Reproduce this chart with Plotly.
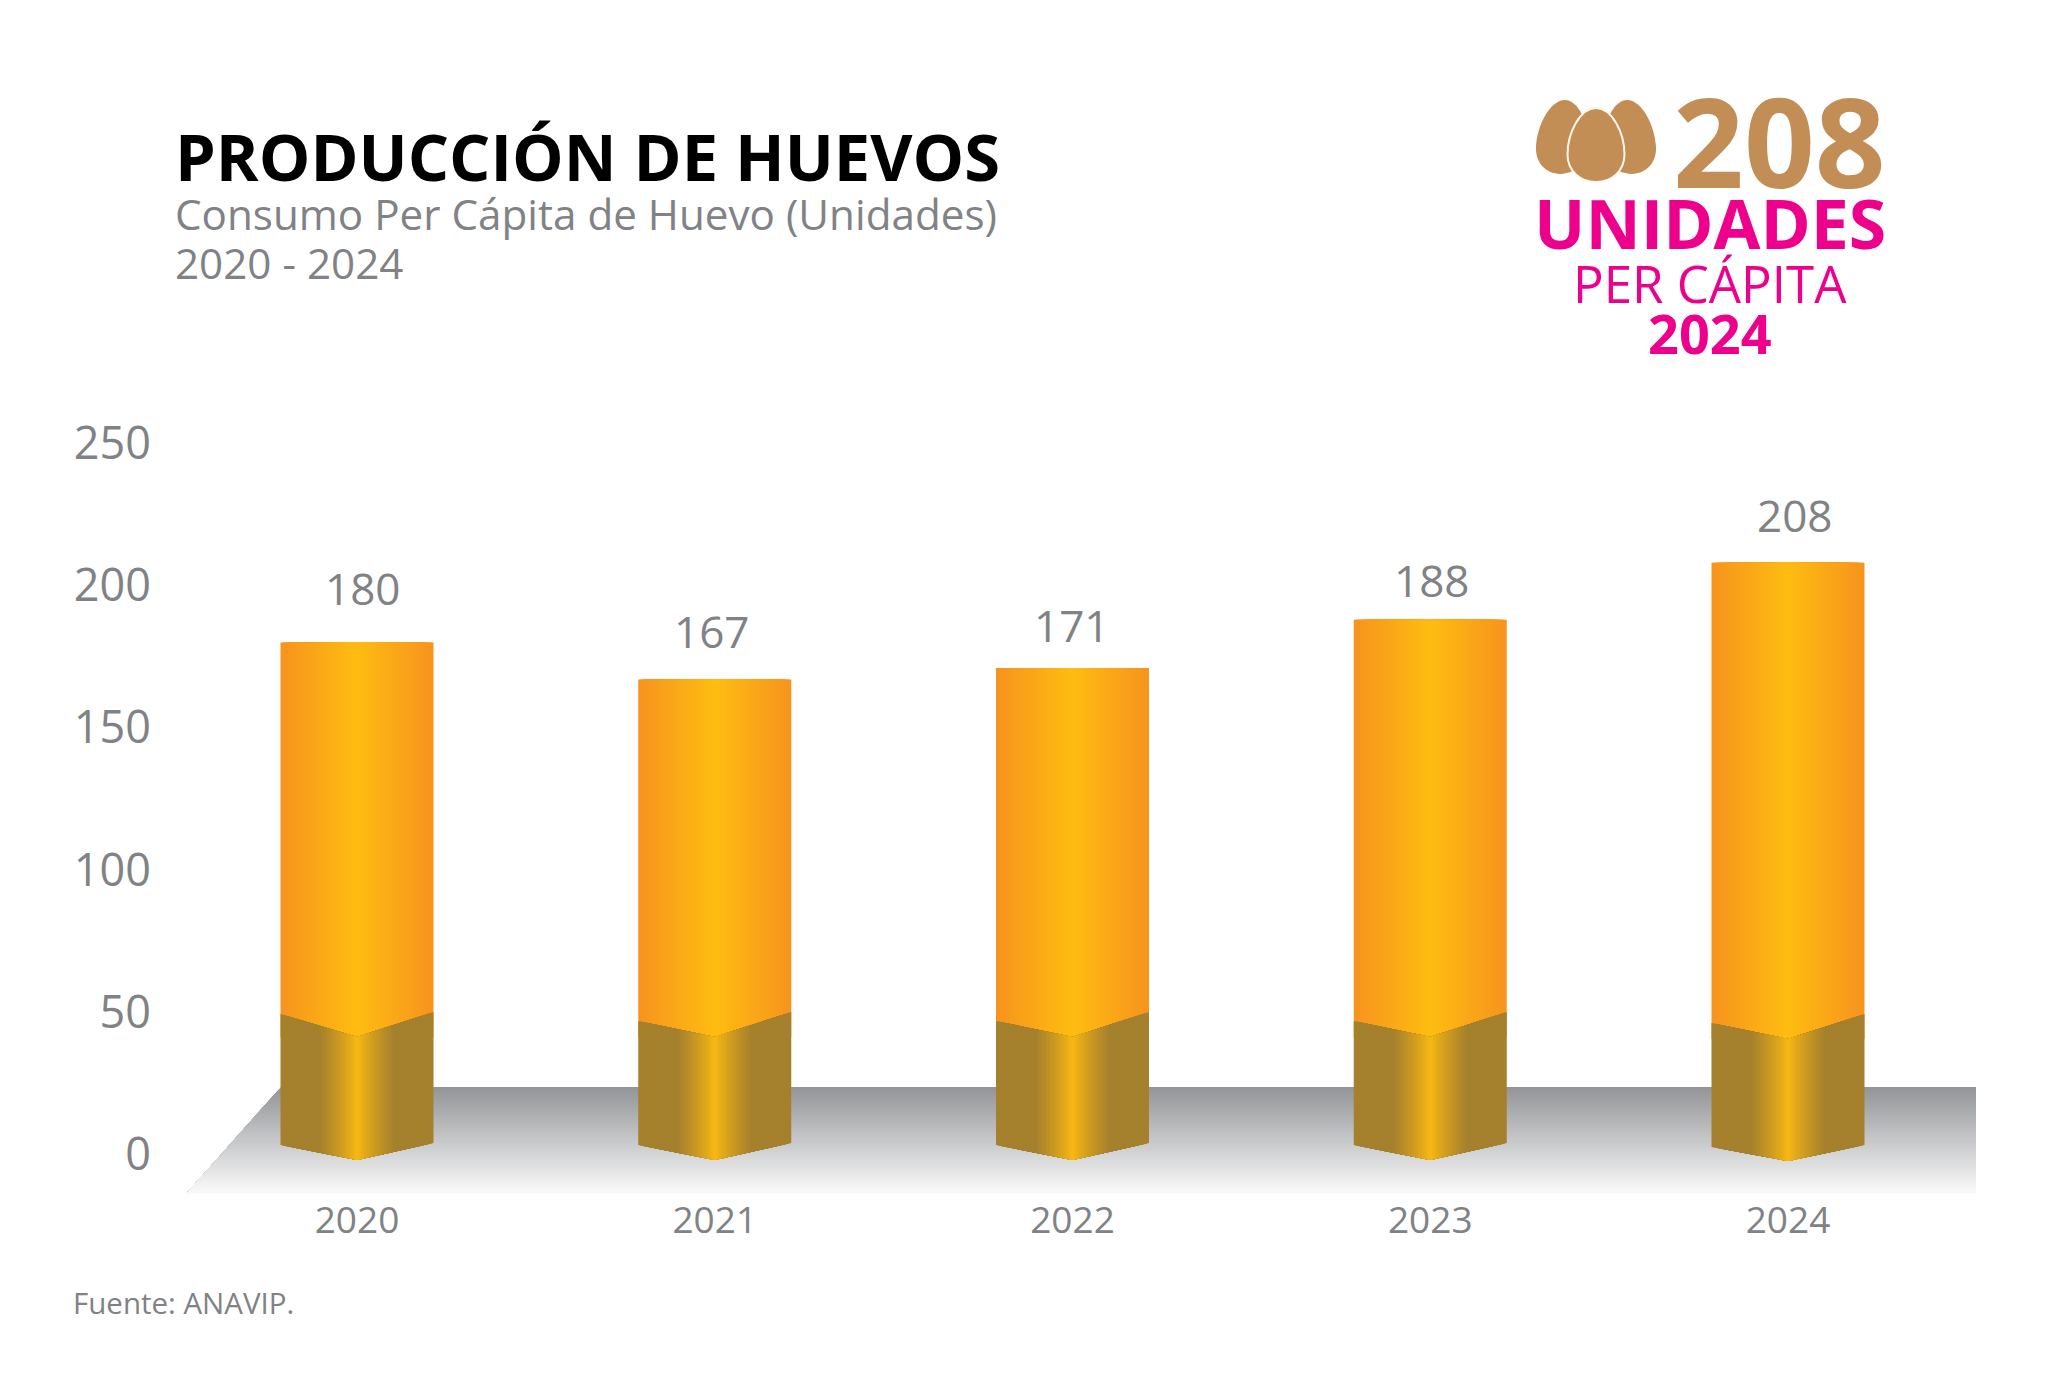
import plotly.graph_objects as go

# ---- data ----
years = [2020, 2021, 2022, 2023, 2024]
values = [180, 167, 171, 188, 208]
y_ticks = [0, 50, 100, 150, 200, 250]
title = "PRODUCCIÓN DE HUEVOS"
subtitle_1 = "Consumo Per Cápita de Huevo (Unidades)"
subtitle_2 = "2020 - 2024"
source = "Fuente: ANAVIP."
badge_value = "208"
badge_unit = "UNIDADES"
badge_per = "PER CÁPITA"
badge_year = "2024"

# ---- canvas mapping ----
W, H = 2048, 1396
PL, PB = 160, 1195            # plot area left / bottom in pixels
Y0, PXU = 1154.0, 2.842       # pixel of value 0, pixels per unit
X0, PXY = 357.0, 357.75       # pixel of 2020, pixels per year
GREY = "#808285"
BROWN = "#c28e56"
PINK = "#ec008c"
FONT = "Open Sans"

def dx(px): return 2020 + (px - X0) / PXY
def dy(py): return (Y0 - py) / PXU
def paper_x(px): return (px - PL) / (W - PL)
def paper_y(py): return 1 - py / PB

def lerp_hex(a, b, t):
    ca = [int(a[i:i + 2], 16) for i in (1, 3, 5)]
    cb = [int(b[i:i + 2], 16) for i in (1, 3, 5)]
    return "rgb(%d,%d,%d)" % tuple(round(p + (q - p) * t) for p, q in zip(ca, cb))

# ---- bar decoration (chevron foot, pixels per bar) ----
BAR_W = 153 / PXY
LAYERS = 38
top_l = [1014, 1021, 1021, 1021, 1023]
top_c = [1037, 1037, 1037, 1037, 1039]
top_r = [1012, 1012, 1012, 1012, 1014]
bot_l = [1145, 1145, 1145, 1145, 1147]
bot_c = [1160, 1160, 1160, 1160, 1161]
bot_r = [1143, 1143, 1143, 1143, 1145]

def vee(l, c, r, u):
    return l + (c - l) * (u / 0.5) if u < 0.5 else c + (r - c) * ((u - 0.5) / 0.5)

fig = go.Figure()
# orange body: nested bars, outermost first, so the gradient has no seams
for i in range(LAYERS):
    d = 1 - i / LAYERS
    bases = [dy(c) for c in top_c]
    w = BAR_W * d
    fig.add_trace(go.Bar(
        x=years, y=[v - b for v, b in zip(values, bases)], base=bases,
        width=w, offset=-w / 2,
        marker=dict(color=lerp_hex("#febd11", "#f7941e", d), line=dict(width=0)),
        showlegend=False, hoverinfo="skip"))

# dark foot: nested polygons on the chevron outline
for i in range(LAYERS):
    d = 1 - i / LAYERS
    lo, hi = 0.5 - d / 2, 0.5 + d / 2
    xs, ys = [], []
    for k, yr in enumerate(years):
        tl, tc, tr = top_l[k], top_c[k], top_r[k]
        bl, bc, br = bot_l[k], bot_c[k], bot_r[k]
        xs += [yr + (lo - 0.5) * BAR_W, yr, yr + (hi - 0.5) * BAR_W,
               yr + (hi - 0.5) * BAR_W, yr, yr + (lo - 0.5) * BAR_W,
               yr + (lo - 0.5) * BAR_W, None]
        ys += [dy(vee(tl, tc, tr, lo)), dy(tc), dy(vee(tl, tc, tr, hi)),
               dy(vee(bl, bc, br, hi)), dy(bc), dy(vee(bl, bc, br, lo)),
               dy(vee(tl, tc, tr, lo)), None]
    col = "#a5802d" if d > 0.5 else lerp_hex("#febd11", "#a5802d", (d / 0.5) ** 0.8)
    fig.add_trace(go.Scatter(x=xs, y=ys, mode="none", fill="toself", fillcolor=col,
                             showlegend=False, hoverinfo="skip"))

# ---- floor: nested polygons give a vertical gradient ----
shapes = []
FT, FB, FTL, FBL, FR = 1087.0, 1194.0, 281.0, 186.0, 1976.0
for i in range(54):
    t = i / 54
    py = FT + (FB - FT) * t
    xl = FTL + (FBL - FTL) * t
    shapes.append(dict(
        type="path", layer="below", xref="x", yref="y", line=dict(width=0),
        fillcolor=lerp_hex("#939598", "#fcfcfc", t),
        path=f"M{dx(xl)},{dy(py)} L{dx(FR)},{dy(py)} L{dx(FR)},{dy(FB)} L{dx(FBL)},{dy(FB)} Z"))

# ---- egg logo ----
def egg(cx, top, bottom, hw, belly=0.63, lean=0.0):
    h = bottom - top
    m = top + h * belly
    def p(x, y):
        return f"{paper_x(x + lean * (m - y))},{paper_y(y)}"
    return (f"M{p(cx, top)} "
            f"C{p(cx + hw * 0.55, top)} {p(cx + hw, m - h * 0.3)} {p(cx + hw, m)} "
            f"C{p(cx + hw, m + h * 0.22)} {p(cx + hw * 0.55, bottom)} {p(cx, bottom)} "
            f"C{p(cx - hw * 0.55, bottom)} {p(cx - hw, m + h * 0.22)} {p(cx - hw, m)} "
            f"C{p(cx - hw, m - h * 0.3)} {p(cx - hw * 0.55, top)} {p(cx, top)} Z")

for spec in [(1562, 100, 174, 26, 0.06), (1630, 100, 174, 26, -0.06)]:
    shapes.append(dict(type="path", xref="paper", yref="paper", fillcolor=BROWN,
                       line=dict(width=0), path=egg(spec[0], spec[1], spec[2], spec[3], lean=spec[4])))
shapes.append(dict(type="path", xref="paper", yref="paper", fillcolor=BROWN,
                   line=dict(width=2, color="#fff6ea"), path=egg(1596, 108, 182, 28.5)))

# ---- text ----
def txt(s, px, py, size, color, bold=False, anchor="left"):
    return dict(text=f"<b>{s}</b>" if bold else s, xref="paper", yref="paper",
                x=paper_x(px), y=paper_y(py), xanchor=anchor, yanchor="middle",
                showarrow=False, borderpad=0,
                font=dict(family=FONT, size=size, color=color))

annotations = [
    txt(title, 174, 156, 65, "#000000", bold=True),
    txt(subtitle_1, 174, 214, 42.2, GREY),
    txt(subtitle_2, 174, 262, 42.2, GREY),
    txt(source, 72, 1302, 29.5, GREY),
    txt(badge_value, 1779, 140, 124, BROWN, bold=True, anchor="center"),
    txt(badge_unit, 1710, 223, 68, PINK, bold=True, anchor="center"),
    txt(badge_per, 1710, 283, 51, PINK, anchor="center"),
    txt(badge_year, 1710, 333, 54, PINK, bold=True, anchor="center"),
]
label_dx = [5, -3, -1, 1, 6]
label_up = [54, 48, 43, 40, 48]
for yr, v, ox, up in zip(years, values, label_dx, label_up):
    annotations.append(dict(text=str(v), x=yr, y=v, xref="x", yref="y", xshift=ox, yshift=up,
                            xanchor="center", yanchor="middle", showarrow=False,
                            font=dict(family=FONT, size=44, color=GREY)))

fig.update_layout(
    width=W, height=H, autosize=False, barmode="overlay",
    margin=dict(l=PL, r=0, t=0, b=H - PB, pad=0),
    paper_bgcolor="#ffffff", plot_bgcolor="rgba(0,0,0,0)",
    showlegend=False, shapes=shapes, annotations=annotations,
    xaxis=dict(range=[dx(PL), dx(W)], tickmode="array", tickvals=years,
               ticktext=[str(y) for y in years], showgrid=False, zeroline=False,
               showline=False, ticks="",
               tickfont=dict(family=FONT, size=37, color=GREY)),
    yaxis=dict(range=[dy(PB), dy(0)], tickmode="array", tickvals=y_ticks,
               ticktext=[str(y) for y in y_ticks], showgrid=False, zeroline=False,
               showline=False, ticks="", ticklabelstandoff=8,
               tickfont=dict(family=FONT, size=45, color=GREY)),
)
fig.write_html("out.html", config={"displayModeBar": False},
               post_script="document.body.style.margin='0';document.body.style.overflow='hidden';")
